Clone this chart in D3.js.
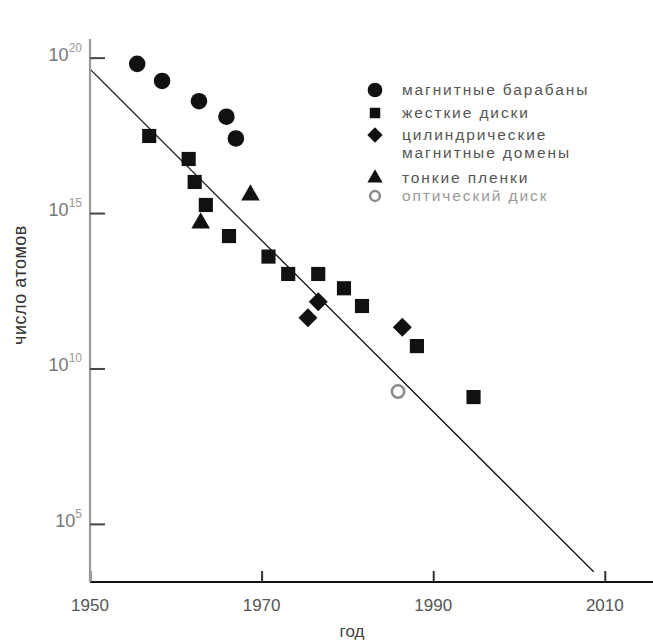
<!DOCTYPE html>
<html>
<head>
<meta charset="utf-8">
<script src="https://cdn.jsdelivr.net/npm/d3@7"></script>
<style>
  body { margin: 0; background: #fff; }
  text { font-family: "Liberation Sans", Arial, sans-serif; }
</style>
</head>
<body>
<svg id="chart" width="653" height="642"></svg>
<script>
// data: year, log10(number of atoms)
var drumYears = [1955.5, 1958.4, 1962.7, 1965.9, 1967.0];
var drumLogs = [19.8, 19.25, 18.6, 18.1, 17.4];

var diskYears = [1956.9, 1961.5, 1962.2, 1963.5, 1966.2, 1970.8, 1973.1, 1976.6, 1979.6, 1981.7, 1988.1, 1994.7];
var diskLogs = [17.48, 16.74, 16.0, 15.26, 14.26, 13.6, 13.04, 13.04, 12.58, 12.01, 10.72, 9.08];

var bubbleYears = [1976.6, 1975.4, 1986.4];
var bubbleLogs = [12.15, 11.63, 11.33];

var filmYears = [1968.7, 1962.9];
var filmLogs = [15.58, 14.68];

var opticalYears = [1985.9];
var opticalLogs = [9.26];

var trendYears = [1950, 2008.7];
var trendLogs = [19.63, 3.46];

var xTicks = [1950, 1970, 1990, 2010];
var yTickExps = [5, 10, 15, 20];

var legendLabels = [
  ['магнитные барабаны'],
  ['жесткие диски'],
  ['цилиндрические', 'магнитные домены'],
  ['тонкие пленки'],
  ['оптический диск']
];

var svg = d3.select('#chart');

var x = d3.scaleLinear().domain([1950, 2015.5]).range([90, 652]);
var y = d3.scaleLog().domain([Math.pow(10, 3.13), Math.pow(10, 20.6)]).range([582, 39]);

function py(l) { return y(Math.pow(10, l)); }

// trend line
svg.append('line')
  .attr('x1', x(trendYears[0])).attr('y1', py(trendLogs[0]))
  .attr('x2', x(trendYears[1])).attr('y2', py(trendLogs[1]))
  .attr('stroke', '#111').attr('stroke-width', 1.3);

// axes
var xAxis = d3.axisTop(x).tickValues(xTicks).tickSize(11).tickFormat('');
var gx = svg.append('g').attr('transform', 'translate(0,582)').call(xAxis);
gx.select('.domain').attr('stroke', '#111').attr('stroke-width', 2.2).attr('d', 'M90,0H653');
gx.selectAll('.tick line').attr('stroke', '#333').attr('stroke-width', 2);

var yAxis = d3.axisRight(y).tickValues(yTickExps.map(e => Math.pow(10, e))).tickSize(15).tickFormat('');
var gy = svg.append('g').attr('transform', 'translate(90,0)').call(yAxis);
gy.select('.domain').attr('stroke', '#999').attr('stroke-width', 2.2).attr('d', 'M0,39V582');
gy.selectAll('.tick line').attr('stroke', '#444').attr('stroke-width', 2);

// tick labels
svg.selectAll('.xlab')
  .data(xTicks)
  .enter()
  .append('text')
  .attr('class', 'xlab')
  .attr('x', d => x(d))
  .attr('y', 611)
  .attr('text-anchor', 'middle')
  .attr('font-size', 17)
  .attr('fill', '#555')
  .text(d => d);

var ylab = svg.selectAll('.ylab')
  .data(yTickExps)
  .enter()
  .append('text')
  .attr('class', 'ylab')
  .attr('x', 82)
  .attr('y', d => py(d) + 3)
  .attr('text-anchor', 'end')
  .attr('font-size', 18)
  .attr('fill', '#777');
ylab.append('tspan').text('10');
ylab.append('tspan').text(d => d)
  .attr('dy', -9)
  .attr('font-size', 12)
  .attr('fill', '#999');

// axis titles
svg.append('text')
  .attr('x', 352).attr('y', 637)
  .attr('text-anchor', 'middle')
  .attr('font-size', 17).attr('fill', '#444')
  .text('год');

svg.append('text')
  .attr('transform', 'translate(26,285) rotate(-90)')
  .attr('text-anchor', 'middle')
  .attr('font-size', 18).attr('fill', '#333')
  .attr('letter-spacing', 0.5)
  .text('число атомов');

// marks
var sym = {
  circle: d3.symbol().type(d3.symbolCircle),
  square: d3.symbol().type(d3.symbolSquare),
  diamond: d3.symbol().type(d3.symbolDiamond2),
  triangle: d3.symbol().type(d3.symbolTriangle)
};

function points(cls, years, logs, path, fill, stroke) {
  svg.selectAll('.' + cls)
    .data(years.map((d, i) => [d, logs[i]]))
    .enter()
    .append('path')
    .attr('class', cls)
    .attr('transform', d => 'translate(' + x(d[0]) + ',' + py(d[1]) + ')')
    .attr('d', path)
    .attr('fill', fill)
    .attr('stroke', stroke || 'none')
    .attr('stroke-width', 2.5);
}

points('drum', drumYears, drumLogs, sym.circle.size(215)(), '#111');
points('disk', diskYears, diskLogs, sym.square.size(200)(), '#111');
points('bubble', bubbleYears, bubbleLogs, sym.diamond.size(230)(), '#111');
points('film', filmYears, filmLogs, sym.triangle.size(150)(), '#111');
points('optical', opticalYears, opticalLogs, sym.circle.size(120)(), 'none', '#888');

// legend
var legendY = [90, 113, 135, 178, 196];
var legendSyms = [
  [sym.circle.size(170)(), '#111', 'none'],
  [sym.square.size(110)(), '#111', 'none'],
  [sym.diamond.size(150)(), '#111', 'none'],
  [sym.triangle.size(100)(), '#111', 'none'],
  [sym.circle.size(75)(), 'none', '#888']
];
var textColors = ['#555', '#555', '#555', '#555', '#999'];

legendLabels.forEach(function (lines, i) {
  svg.append('path')
    .attr('transform', 'translate(375,' + legendY[i] + ')')
    .attr('d', legendSyms[i][0])
    .attr('fill', legendSyms[i][1])
    .attr('stroke', legendSyms[i][2])
    .attr('stroke-width', 2.5);
  lines.forEach(function (t, j) {
    svg.append('text')
      .attr('x', 402)
      .attr('y', legendY[i] + 5 + j * 18)
      .attr('font-size', 15.5)
      .attr('letter-spacing', 1.9)
      .attr('fill', textColors[i])
      .text(t);
  });
});
</script>
</body>
</html>
